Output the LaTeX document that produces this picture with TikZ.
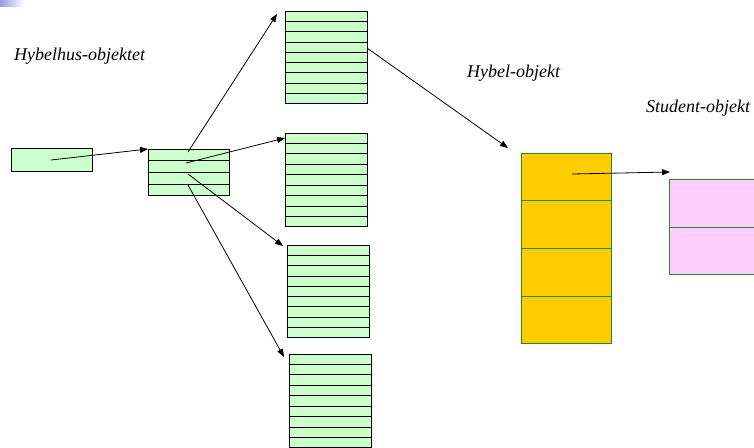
\documentclass[tikz,border=0pt]{standalone}
\usepackage{fontspec}
\setmainfont{Liberation Serif}
\usetikzlibrary{arrows.meta,calc}
\definecolor{lgreen}{HTML}{CCFFCC}
\definecolor{gold}{HTML}{FFCC00}
\definecolor{lpink}{HTML}{FFCCFF}
\definecolor{dgreen}{HTML}{228B22}
\definecolor{deco}{HTML}{9A9ADC}
\begin{document}
\begin{tikzpicture}[x=1pt,y=-1pt,
  arr/.style={-{Triangle[length=8pt,width=6pt]}, line width=0.8pt},
  gbox/.style={draw=black, fill=lgreen, line width=0.8pt, inner sep=0pt, anchor=north west},
  obox/.style={draw=dgreen, fill=gold, line width=0.8pt, inner sep=0pt, anchor=north west},
  pbox/.style={draw=dgreen, fill=lpink, line width=0.8pt, inner sep=0pt, anchor=north west},
  lbl/.style={font=\fontsize{18}{20}\selectfont\itshape, anchor=base west, inner sep=0pt}]
\clip (0,0) rectangle (754,447);
\fill[white] (0,0) rectangle (754,447);
\shade[left color=deco, right color=white] (0,0) rectangle (24,6);

% labels
\node[lbl] (t1) at (14,60) {Hybelhus-objektet};
\node[lbl] (t2) at (467,77) {Hybel-objekt};
\node[lbl] (t3) at (646,112) {Student-objekt};

% boxes
\node[gbox, minimum width=81pt, minimum height=23pt] (a) at (11,148) {};
\node[gbox, minimum width=81pt, minimum height=46pt] (b) at (148,149) {};
\foreach \i in {1,2,3}
  \draw[line width=0.8pt] ($(b.north west)!\i/4!(b.south west)$) -- ($(b.north east)!\i/4!(b.south east)$);

\node[gbox, minimum width=82pt, minimum height=92pt] (g1) at (285,11) {};
\node[gbox, minimum width=82pt, minimum height=93pt] (g2) at (285,133) {};
\node[gbox, minimum width=82pt, minimum height=92pt] (g3) at (287,245) {};
\node[gbox, minimum width=82pt, minimum height=93pt] (g4) at (289,354) {};
\foreach \g in {g1,g2,g3,g4}
  \foreach \i in {1,...,8}
    \draw[line width=0.8pt] ($(\g.north west)!\i/9!(\g.south west)$) -- ($(\g.north east)!\i/9!(\g.south east)$);

\node[obox, minimum width=90pt, minimum height=190pt] (h) at (521,153) {};
\foreach \i in {1,2,3}
  \draw[draw=dgreen, line width=0.8pt] ($(h.north west)!\i/4!(h.south west)$) -- ($(h.north east)!\i/4!(h.south east)$);

\node[pbox, minimum width=120pt, minimum height=95pt] (s) at (669,179) {};
\draw[draw=dgreen, line width=0.8pt] ($(s.north west)!0.5!(s.south west)$) -- ($(s.north east)!0.5!(s.south east)$);

% connector points
\coordinate (pa) at (51,160);
\coordinate (pb1) at (188,152);
\coordinate (pb2) at (186,163);
\coordinate (pb3) at (188,174);
\coordinate (pb4) at (188,185);
\coordinate (pg1) at (367,48);
\coordinate (ph) at (572,174);
\coordinate (e1) at (277,14);
\coordinate (e2) at (285,138);
\coordinate (e3) at (283,246);
\coordinate (e4) at (284,357);
\coordinate (eh) at (508,148);
\coordinate (es) at (670,172);

\draw[arr] (pa) -- (b.north west);
\draw[arr] (pb1) -- (e1);
\draw[arr] (pb2) -- (e2);
\draw[arr] (pb3) -- (e3);
\draw[arr] (pb4) -- (e4);
\draw[arr] (pg1) -- (eh);
\draw[arr] (ph) -- (es);
\end{tikzpicture}
\end{document}
